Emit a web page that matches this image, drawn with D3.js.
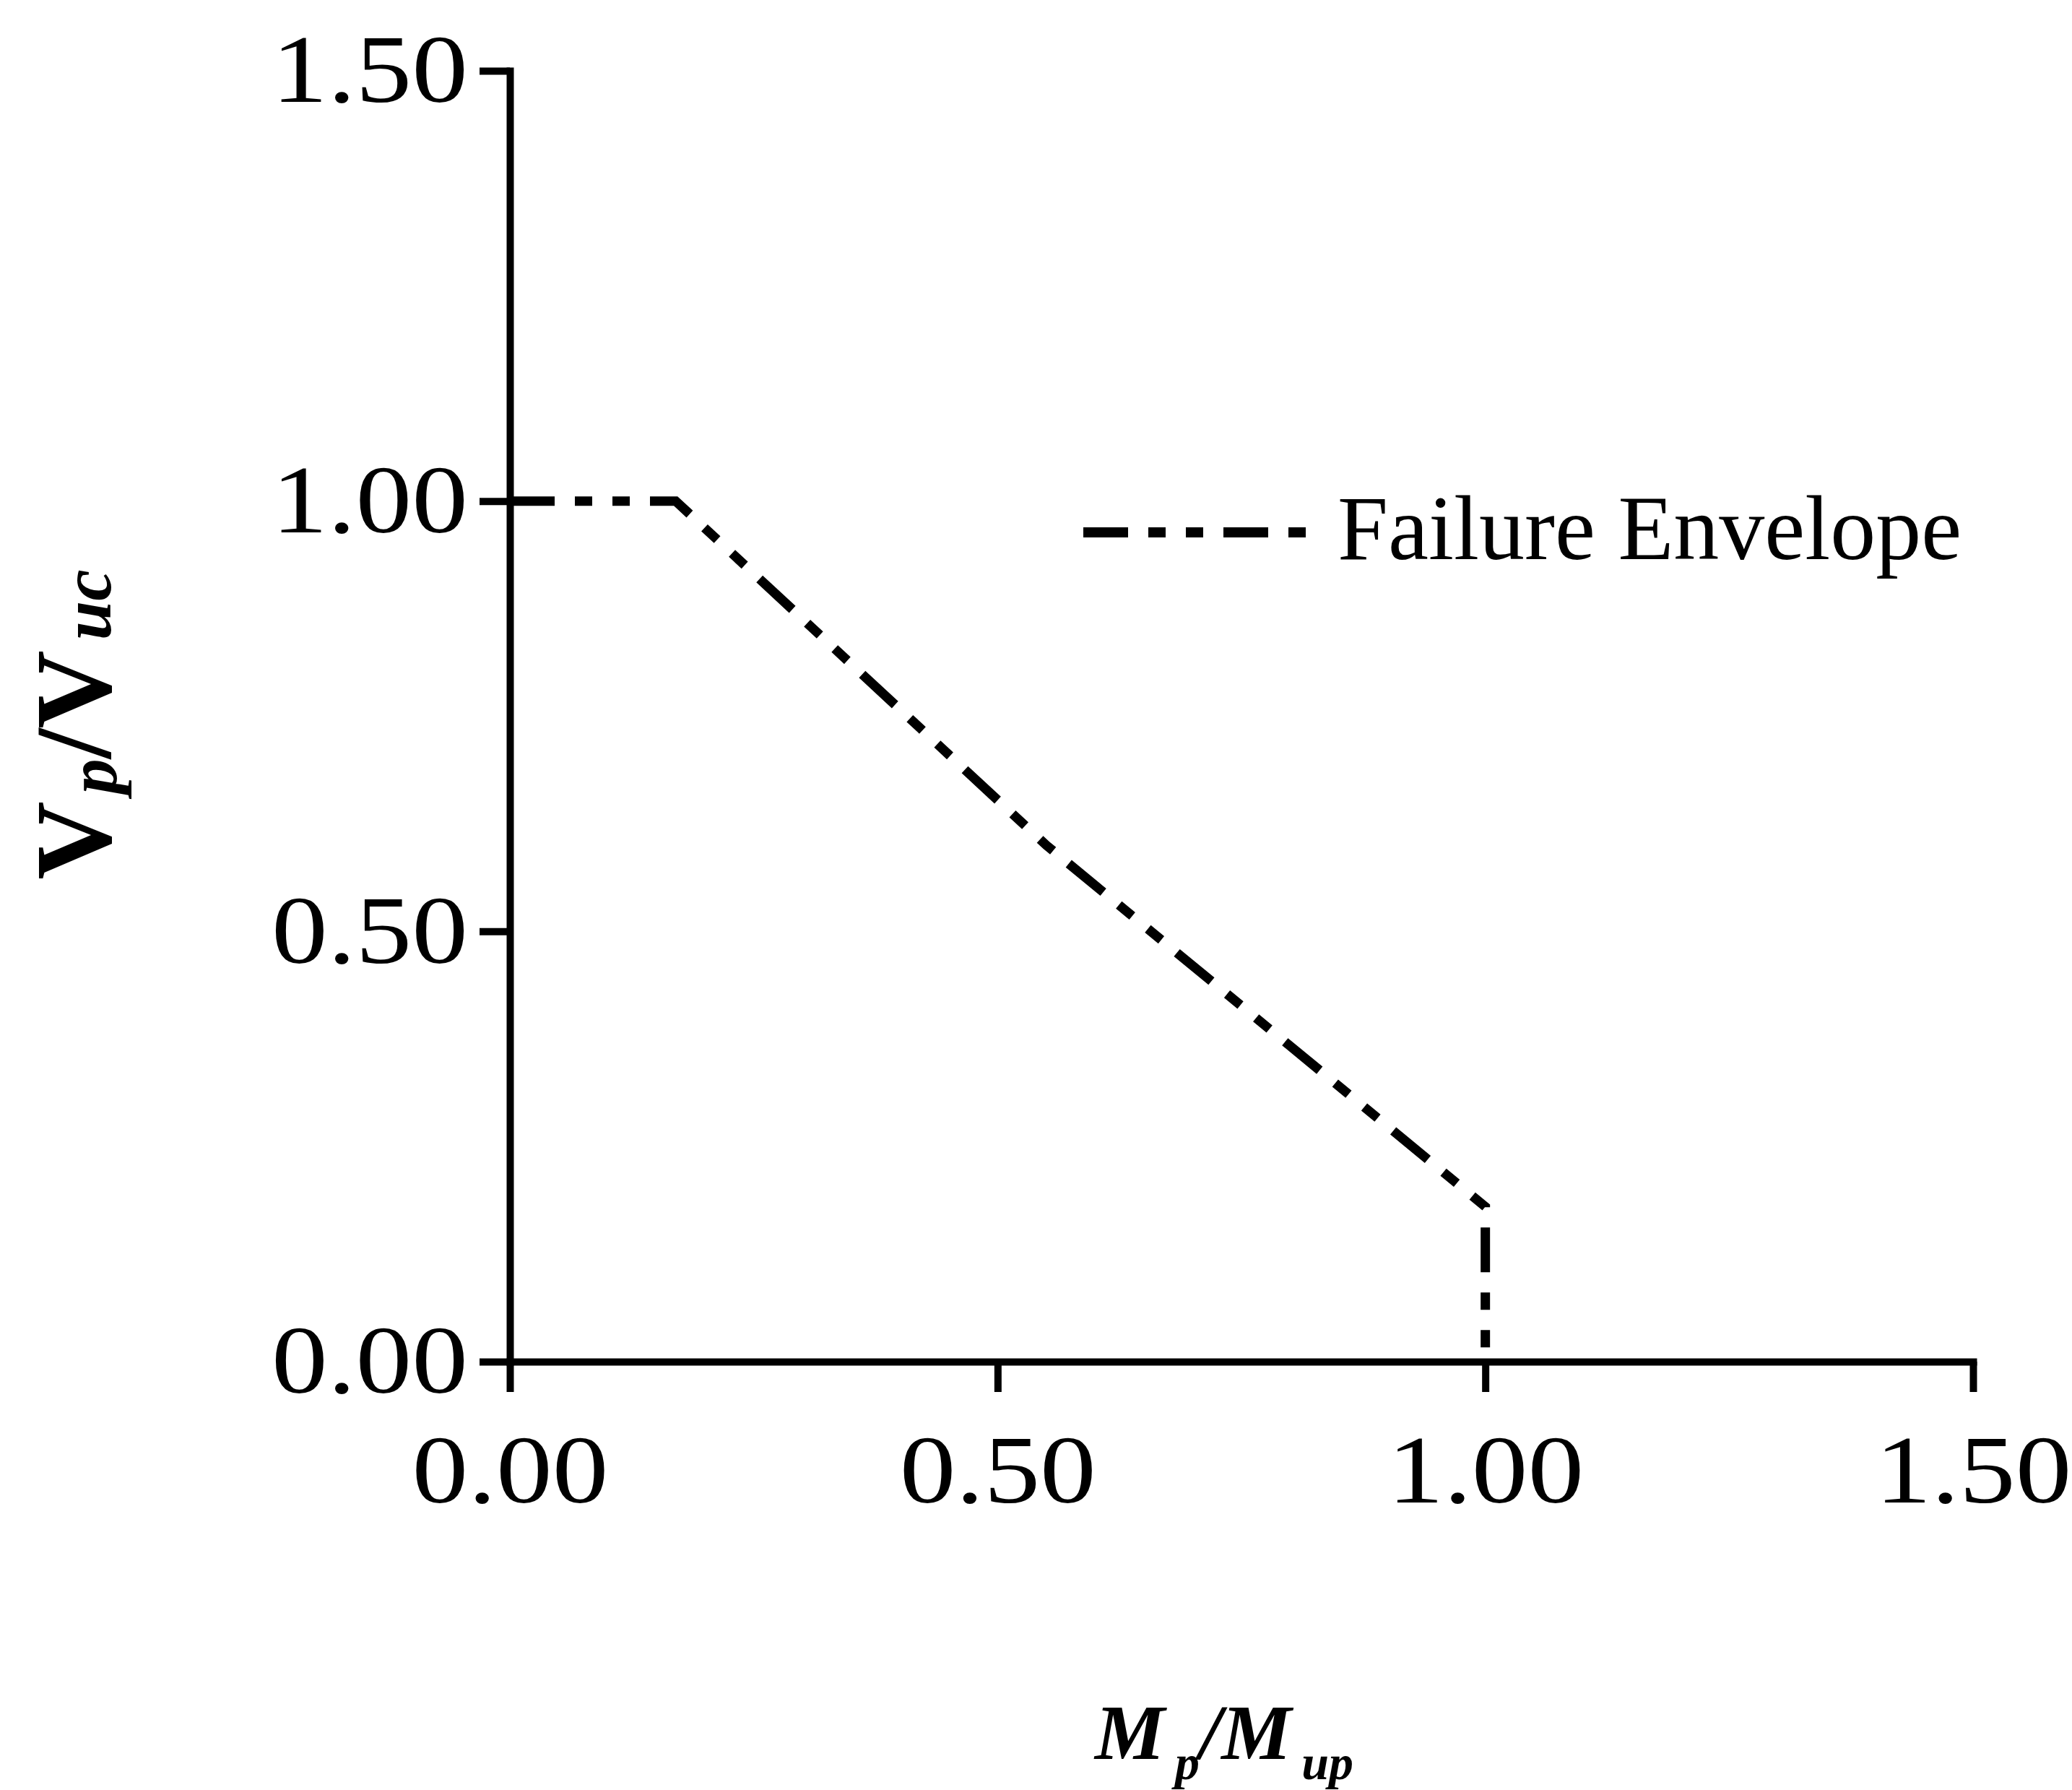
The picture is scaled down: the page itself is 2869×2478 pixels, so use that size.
<!DOCTYPE html>
<html>
<head>
<meta charset="utf-8">
<script src="https://cdn.jsdelivr.net/npm/d3@7"></script>
<style>
body { margin: 0; background: #fff; }
text { font-family: "Liberation Serif", "Times New Roman", serif; fill: #000; }
</style>
</head>
<body>
<script>
// size of the picture
var w = 2869;
var h = 2478;

// failure envelope (Mp/Mup, Vp/Vuc)
var envX = [0, 0.17, 0.55, 1.0, 1.0];
var envY = [1.0, 1.0, 0.6, 0.18, 0.0];

var xTicks = [0, 0.5, 1.0, 1.5];
var yTicks = [0, 0.5, 1.0, 1.5];
var seriesName = "Failure Envelope";

var dashes = "62,28,24,28,24,28";

var svg = d3.select("body")
            .append("svg")
            .attr("width", w)
            .attr("height", h);

var x = d3.scaleLinear().domain([0, 1.5]).range([706, 2732]);
var y = d3.scaleLinear().domain([0, 1.5]).range([1885, 98]);

// axes
var xAxis = d3.axisBottom(x)
  .tickValues(xTicks)
  .tickFormat(d3.format(".2f"))
  .tickSizeInner(42)
  .tickSizeOuter(0)
  .tickPadding(58);

var yAxis = d3.axisLeft(y)
  .tickValues(yTicks)
  .tickFormat(d3.format(".2f"))
  .tickSizeInner(42)
  .tickSizeOuter(0)
  .tickPadding(16);

var gx = svg.append("g").attr("transform", "translate(0," + y(0) + ")").call(xAxis);
var gy = svg.append("g").attr("transform", "translate(" + x(0) + ",0)").call(yAxis);

[gx, gy].forEach(function(g) {
  g.select(".domain").attr("stroke", "#000").attr("stroke-width", 10).attr("stroke-linecap", "square");
  g.selectAll(".tick line").attr("stroke", "#000").attr("stroke-width", 10);
  g.selectAll(".tick text")
    .attr("font-family", "Liberation Serif")
    .attr("font-size", 134)
    .attr("textLength", 272)
    .attr("lengthAdjust", "spacingAndGlyphs");
});

// envelope line
var line = d3.line()
  .x(function(d) { return x(d[0]); })
  .y(function(d) { return y(d[1]); });

svg.append("path")
  .datum(d3.zip(envX, envY))
  .attr("d", line)
  .attr("fill", "none")
  .attr("stroke", "#000")
  .attr("stroke-width", 13)
  .attr("stroke-dasharray", dashes);

// legend
svg.append("line")
  .attr("x1", 1500).attr("x2", 1812)
  .attr("y1", 737).attr("y2", 737)
  .attr("stroke", "#000")
  .attr("stroke-width", 14)
  .attr("stroke-dasharray", dashes);

svg.append("text")
  .attr("x", 1852)
  .attr("y", 774)
  .attr("font-size", 126)
  .text(seriesName);

// y axis title
var yt = svg.append("text")
  .attr("transform", "translate(153,1003) rotate(-90)")
  .attr("text-anchor", "middle")
  .attr("font-weight", "bold");
yt.append("tspan").attr("font-size", 150).text("V");
yt.append("tspan").attr("font-size", 98).attr("font-style", "italic").attr("dx", 10).attr("dy", 8).text("p");
yt.append("tspan").attr("font-size", 150).attr("dy", -8).text("/V");
yt.append("tspan").attr("font-size", 98).attr("font-style", "italic").attr("dx", 14).text("uc");

// x axis title
var xt = svg.append("text")
  .attr("x", 1695)
  .attr("y", 2435)
  .attr("text-anchor", "middle")
  .attr("font-weight", "bold")
  .attr("font-style", "italic");
xt.append("tspan").attr("font-size", 109).text("M");
xt.append("tspan").attr("font-size", 68).attr("dy", 28).attr("dx", 14).text("p");
xt.append("tspan").attr("font-size", 109).attr("dy", -28).text("/M");
xt.append("tspan").attr("font-size", 68).attr("dy", 28).attr("dx", 14).text("up");
</script>
</body>
</html>
